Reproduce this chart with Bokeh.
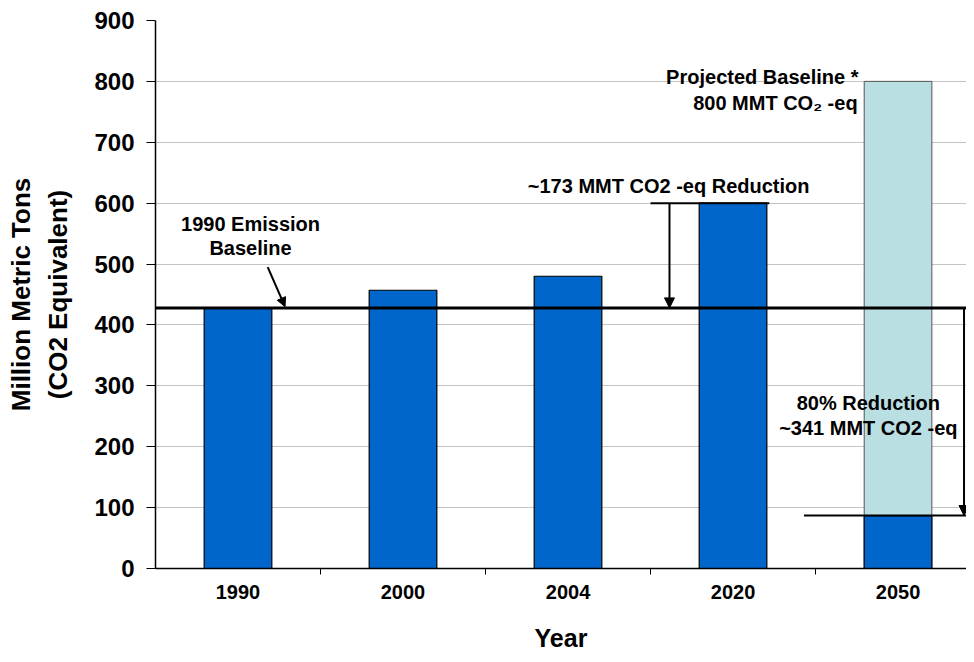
from bokeh.plotting import figure
from bokeh.models import Range1d, FixedTicker, Label, Arrow, NormalHead, LinearAxis
from bokeh.embed import file_html
from bokeh.resources import INLINE

years = ["1990", "2000", "2004", "2020", "2050"]
emissions = [428, 457, 480, 600, 87]
projected_year = "2050"
projected_value = 800
baseline_1990 = 428
target_2050 = 87
y_ticks = [0, 100, 200, 300, 400, 500, 600, 700, 800, 900]

FONT = "Liberation Sans"
xs = [i + 0.5 for i in range(len(years))]
px = xs[years.index(projected_year)]
XMAX = 4.915

p = figure(width=966, height=654, output_backend="svg", toolbar_location=None,
           x_range=Range1d(0, XMAX), y_range=Range1d(0, 900),
           min_border_left=155, min_border_top=20, min_border_bottom=83, min_border_right=0)
p.outline_line_color = None
p.background_fill_color = "white"

# projected bar (behind)
p.vbar(x=[px], top=[projected_value], width=0.41, fill_color="#B9DFE3", line_color="#555555", line_width=1)
# actual bars
p.vbar(x=xs, top=emissions, width=0.41, fill_color="#0066CC", line_color="black", line_width=1.2)

# baseline line
p.line(x=[0, XMAX], y=[baseline_1990, baseline_1990], line_color="black", line_width=3)
# 2020 reference line
p.line(x=[3.0, 3.72], y=[emissions[3], emissions[3]], line_color="black", line_width=2)
# 2050 target line
p.line(x=[3.93, XMAX], y=[target_2050, target_2050], line_color="black", line_width=2)

p.add_layout(Arrow(end=NormalHead(size=10, fill_color="black", line_color="black"),
                   x_start=3.115, y_start=emissions[3], x_end=3.115, y_end=baseline_1990,
                   line_color="black", line_width=2))
p.add_layout(Arrow(end=NormalHead(size=10, fill_color="black", line_color="black"),
                   x_start=4.9, y_start=baseline_1990, x_end=4.9, y_end=target_2050,
                   line_color="black", line_width=2))
p.add_layout(Arrow(end=NormalHead(size=9, fill_color="black", line_color="black"),
                   x_start=0.68, y_start=495, x_end=0.785, y_end=baseline_1990 + 2,
                   line_color="black", line_width=2))

def lab(x, y, text, align="center", size="20px"):
    p.add_layout(Label(x=x, y=y, text=text, text_align=align, text_baseline="middle",
                       text_font=FONT, text_font_style="bold", text_font_size=size, text_color="black"))

lab(0.576, 565, "1990 Emission")
lab(0.576, 526, "Baseline")
lab(3.11, 629, "~173 MMT CO2 -eq Reduction")
lab(4.26, 807, "Projected Baseline *", align="right")
lab(4.255, 764, "800 MMT CO\u2082 -eq", align="right")
lab(4.32, 271, "80% Reduction")
lab(4.32, 230, "~341 MMT CO2 -eq")

# axes
yax = p.yaxis[0]
yax.ticker = FixedTicker(ticks=y_ticks)
yax.major_label_text_font = FONT
yax.major_label_text_font_style = "bold"
yax.major_label_text_font_size = "24px"
yax.major_label_text_color = "black"
yax.major_tick_out = 9
yax.major_tick_in = 0
yax.minor_tick_out = 0
yax.minor_tick_in = 0
yax.major_label_standoff = 12
yax.axis_line_color = "black"
yax.axis_line_width = 1.5
yax.axis_label = "(CO2 Equivalent)"
yax.axis_label_text_font = FONT
yax.axis_label_text_font_style = "bold"
yax.axis_label_text_font_size = "26px"
yax.axis_label_text_color = "black"
yax.axis_label_standoff = 18

yax2 = LinearAxis(ticker=FixedTicker(ticks=[]), axis_line_color=None,
                  major_tick_out=0, major_tick_in=0, minor_tick_out=0, minor_tick_in=0,
                  major_label_text_font_size="0px",
                  axis_label="Million Metric Tons", axis_label_text_font=FONT,
                  axis_label_text_font_style="bold", axis_label_text_font_size="26px",
                  axis_label_text_color="black", axis_label_standoff=5)
p.add_layout(yax2, "left")

xax = p.xaxis[0]
xax.ticker = FixedTicker(ticks=xs, minor_ticks=[1, 2, 3, 4])
xax.major_label_overrides = {x: y for x, y in zip(xs, years)}
xax.major_label_text_font = FONT
xax.major_label_text_font_style = "bold"
xax.major_label_text_font_size = "20px"
xax.major_label_text_color = "black"
xax.major_tick_out = 0
xax.major_tick_in = 0
xax.minor_tick_out = 6
xax.minor_tick_in = 0
xax.major_label_standoff = 10
xax.axis_line_color = "black"
xax.axis_line_width = 1.5
xax.axis_label = "Year"
xax.axis_label_text_font = FONT
xax.axis_label_text_font_style = "bold"
xax.axis_label_text_font_size = "25px"
xax.axis_label_text_color = "black"
xax.axis_label_standoff = 22

p.xgrid.grid_line_color = None
p.ygrid.grid_line_color = "#c4c4c4"
p.ygrid.grid_line_width = 1

open("out.html", "w").write(file_html(p, INLINE))
